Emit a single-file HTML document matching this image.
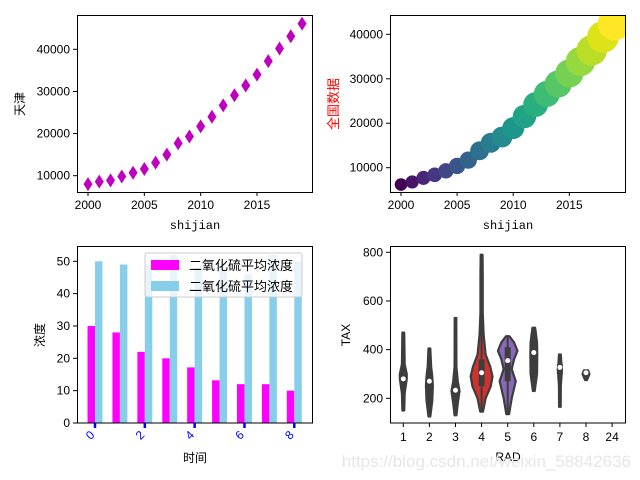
<!DOCTYPE html>
<html><head><meta charset="utf-8"><style>
html,body{margin:0;padding:0;background:#fff}
svg{display:block}
text{font-family:"Liberation Sans","Noto Sans CJK SC",sans-serif;font-size:12px;fill:#000}
text.mono{font-family:"Liberation Mono","Noto Sans CJK SC",monospace}
</style></head><body>
<svg id="c" width="640" height="480" xmlns="http://www.w3.org/2000/svg"></svg>
<script>
// ---- data ----
const years=[2000,2001,2002,2003,2004,2005,2006,2007,2008,2009,2010,2011,2012,2013,2014,2015,2016,2017,2018,2019];
const tianjin=[8000,8600,8900,9800,10700,11600,13100,15000,17700,19300,21700,24000,26700,29100,31400,34000,37200,40200,43100,46100];
const national=[6200,6800,7700,8400,9300,10400,11700,13800,15600,16900,18900,21500,24200,26600,28800,31200,33900,36400,39400,42300];
const barCats=[0,1,2,3,4,5,6,7,8];
const so2A=[30,28,22,20,17.2,13.2,12,12,10];
const so2B=[50,49,49,52,48,48,46,52,50];
const radCats=['1','2','3','4','5','6','7','8','24'];
const taxMin=[150,125,130,145,135,230,165,275,null];
const taxMax=[470,405,530,790,455,490,380,315,null];
const taxQ1=[265,190,205,250,270,300,300,295,null];
const taxQ3=[310,290,265,360,410,430,340,310,null];
const taxMed=[280,270,233,305,355,388,327,305,null];
const violinColor=['#3d3d3d','#3d3d3d','#3d3d3d','#d0332e','#8a68b8','#3d3d3d','#3d3d3d','#3d3d3d',null];
// violin width profiles: [tax value, relative half-width 0..1]
const violinProfiles=[
 [[150,0.08],[220,0.12],[280,0.3],[300,0.3],[340,0.12],[470,0.08]],
 [[125,0.08],[190,0.25],[250,0.3],[290,0.25],[330,0.15],[405,0.08]],
 [[130,0.08],[180,0.2],[230,0.35],[270,0.2],[330,0.08],[530,0.07]],
 [[145,0.12],[200,0.35],[250,0.8],[290,0.95],[330,0.75],[380,0.35],[460,0.18],[550,0.1],[700,0.1],[790,0.08]],
 [[135,0.12],[200,0.35],[270,0.7],[320,0.35],[360,0.55],[395,0.85],[430,0.55],[455,0.15]],
 [[230,0.08],[300,0.28],[380,0.3],[430,0.28],[490,0.12]],
 [[165,0.07],[250,0.08],[320,0.18],[340,0.13],[380,0.08]],
 [[275,0.08],[300,0.3],[315,0.18]],
 null
];
const NS='http://www.w3.org/2000/svg';
const svg=document.getElementById('c');
function mk(tag,attrs,parent){const e=document.createElementNS(NS,tag);for(const k in attrs)e.setAttribute(k,attrs[k]);(parent||svg).appendChild(e);return e;}
function txt(s,attrs,parent){const e=mk('text',attrs,parent);e.textContent=s;return e;}
function lin(d0,d1,r0,r1){return v=>r0+(v-d0)/(d1-d0)*(r1-r0);}

// ---------- panel 1 ----------
(function(){
 const g=mk('g',{});
 const x=lin(2000,2015,88,257), y=lin(10000,40000,175.7,49.3);
 tianjin.forEach((v,i)=>{const cx=x(years[i]),cy=y(v);
  const p=mk('path',{d:`M${cx} ${cy-7}L${cx+4.5} ${cy}L${cx} ${cy+7}L${cx-4.5} ${cy}Z`,fill:'#bf00bf'},g);
  });
 mk('rect',{x:77.5,y:15.5,width:235,height:177,fill:'none',stroke:'#000','stroke-width':1},g);
 [2000,2005,2010,2015].forEach(t=>{mk('line',{x1:x(t),x2:x(t),y1:192,y2:196,stroke:'#000'},g);
  const l=txt(t,{x:x(t),y:209,'text-anchor':'middle'},g);});
 [10000,20000,30000,40000].forEach(t=>{mk('line',{x1:73,x2:77,y1:y(t),y2:y(t),stroke:'#000'},g);
  const l=txt(t,{x:70,y:y(t)+4,'text-anchor':'end'},g);});
 const xl=txt('shijian',{x:195,y:229,'text-anchor':'middle','class':'mono'},g);
 const yl=txt('天津',{x:0,y:0,'text-anchor':'middle',transform:'translate(24,104) rotate(-90)'},g);
})();

// ---------- panel 2 ----------
(function(){
 const vir=['#440154','#481467','#482576','#453781','#404688','#39558c','#33638d','#2d718e','#287d8e','#238a8d','#1f968b','#20a386','#29af7f','#3dbc74','#56c667','#75d054','#95d840','#bade28','#dde318','#fde725'];
 const g=mk('g',{});
 const x=lin(2000,2015,401,569.3), y=lin(10000,40000,167.7,34.3);
 const cp=mk('clipPath',{id:'cp2'},g);mk('rect',{x:390.5,y:15.5,width:235,height:177},cp);
 const pg=mk('g',{'clip-path':'url(#cp2)'},g);
 national.forEach((v,i)=>{const c=mk('circle',{cx:x(years[i]),cy:y(v),r:6.3*Math.sqrt(v/national[0]),fill:vir[i]},pg);
  });
 mk('rect',{x:390.5,y:15.5,width:235,height:177,fill:'none',stroke:'#000'},g);
 [2000,2005,2010,2015].forEach(t=>{mk('line',{x1:x(t),x2:x(t),y1:192,y2:196,stroke:'#000'},g);
  const l=txt(t,{x:x(t),y:209,'text-anchor':'middle'},g);});
 [10000,20000,30000,40000].forEach(t=>{mk('line',{x1:386,x2:390,y1:y(t),y2:y(t),stroke:'#000'},g);
  const l=txt(t,{x:383,y:y(t)+4,'text-anchor':'end'},g);});
 const xl=txt('shijian',{x:508,y:229,'text-anchor':'middle','class':'mono'},g);
 const yl=txt('全国数据',{x:0,y:0,'text-anchor':'middle',style:'fill:#ff0000;font-size:13px',transform:'translate(338,104) rotate(-90)'},g);
})();

// ---------- panel 3 ----------
(function(){
 const g=mk('g',{});
 const x=lin(0,8,95,294.3), y=lin(0,50,423,261.3);
 const w=x(0.3)-x(0);
 const cp=mk('clipPath',{id:'cp3'},g);mk('rect',{x:77.5,y:246,width:235,height:177},cp);
 const pg=mk('g',{'clip-path':'url(#cp3)'},g);
 barCats.forEach((c,i)=>{
  const a=mk('rect',{x:x(c)-w,y:y(so2A[i]),width:w,height:y(0)-y(so2A[i]),fill:'#ff00ff'},pg);
  
  const b=mk('rect',{x:x(c),y:y(so2B[i]),width:w,height:y(0)-y(so2B[i]),fill:'#87ceeb'},pg);
  });
 mk('rect',{x:77.5,y:246.5,width:235,height:176.5,fill:'none',stroke:'#000'},g);
 [0,10,20,30,40,50].forEach(t=>{mk('line',{x1:73,x2:77,y1:y(t),y2:y(t),stroke:'#000'},g);
  const l=txt(t,{x:70,y:y(t)+4,'text-anchor':'end'},g);});
 [0,2,4,6,8].forEach(t=>{mk('line',{x1:x(t),x2:x(t),y1:423,y2:428,stroke:'#0000ff','stroke-width':2.5},g);
  const l=txt(t,{x:0,y:0,'text-anchor':'middle',style:'fill:#0000ff',transform:`translate(${x(t)-2},${438}) rotate(-45)`},g);});
 const xl=txt('时间',{x:195,y:462,'text-anchor':'middle'},g);
 const yl=txt('浓度',{x:0,y:0,'text-anchor':'middle',transform:'translate(44,335) rotate(-90)'},g);
 const lg=mk('g',{},g);
 mk('rect',{x:145,y:253,width:157,height:44,rx:2,fill:'#fff','fill-opacity':0.8,stroke:'#ccc'},lg);
 mk('rect',{x:151,y:260,width:28,height:10,fill:'#ff00ff'},lg);
 mk('rect',{x:151,y:281,width:28,height:10,fill:'#87ceeb'},lg);
 const e1=txt('二氧化硫平均浓度',{x:189,y:270,style:'font-size:13px'},lg);
 const e2=txt('二氧化硫平均浓度',{x:189,y:291,style:'font-size:13px'},lg);
})();

// ---------- panel 4 ----------
(function(){
 const g=mk('g',{});
 const x=i=>403.3+i*26.1, y=lin(200,800,398.3,252.3);
 const maxHW=11.5;
 radCats.forEach((c,i)=>{
  const prof=violinProfiles[i]; if(!prof) return;
  const vg=mk('g',{},g);
  const cx=x(i);
  let d='M'+cx+' '+y(prof[0][0]);
  prof.forEach(p=>{d+=' L'+(cx+p[1]*maxHW)+' '+y(p[0]);});
  d+=' L'+cx+' '+y(prof[prof.length-1][0]);
  for(let k=prof.length-1;k>=0;k--) d+=' L'+(cx-prof[k][1]*maxHW)+' '+y(prof[k][0]);
  d+='Z';
  mk('path',{d:d,fill:violinColor[i],stroke:'#3d3d3d','stroke-width':2.2,'stroke-linejoin':'round'},vg);
  mk('line',{x1:cx,x2:cx,y1:y(taxMin[i]),y2:y(taxMax[i]),stroke:'#3d3d3d','stroke-width':2},vg);
  mk('line',{x1:cx,x2:cx,y1:y(taxQ1[i]),y2:y(taxQ3[i]),stroke:'#3d3d3d','stroke-width':6},vg);
  mk('circle',{cx:cx,cy:y(taxMed[i]),r:2.5,fill:'#fff'},vg);
 });
 mk('rect',{x:390.5,y:246.5,width:235,height:176.5,fill:'none',stroke:'#000'},g);
 [200,400,600,800].forEach(t=>{mk('line',{x1:386,x2:390,y1:y(t),y2:y(t),stroke:'#000'},g);
  const l=txt(t,{x:383,y:y(t)+4,'text-anchor':'end'},g);});
 radCats.forEach((c,i)=>{mk('line',{x1:x(i),x2:x(i),y1:423,y2:427,stroke:'#000'},g);
  const l=txt(c,{x:x(i),y:441,'text-anchor':'middle'},g);});
 const xl=txt('RAD',{x:508,y:461,'text-anchor':'middle'},g);
 const yl=txt('TAX',{x:0,y:0,'text-anchor':'middle',transform:'translate(350,335) rotate(-90)'},g);
})();
const wm=txt('https://blog.csdn.net/weixin_58842636',{x:631,y:467,'text-anchor':'end',style:'fill:#e6e6e6;font-size:17px'});


</script>
</body></html>
